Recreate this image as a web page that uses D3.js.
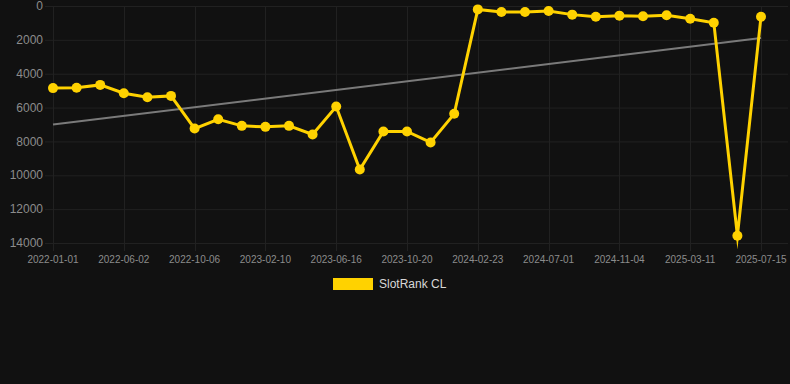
<!DOCTYPE html>
<html>
<head>
<meta charset="utf-8">
<script src="https://cdn.jsdelivr.net/npm/d3@7"></script>
<style>
  html, body { margin: 0; padding: 0; background: #111111; }
  svg { display: block; font-family: "Liberation Sans", Arial, Helvetica, sans-serif; }
</style>
</head>
<body>
<svg id="chart" width="790" height="384"></svg>
<script>
// categories (only every third one is labelled on the axis)
const dates = [
  '2022-01-01', '2022-02-21', '2022-04-12', '2022-06-02', '2022-07-14', '2022-08-25',
  '2022-10-06', '2022-11-17', '2022-12-29', '2023-02-10', '2023-03-24', '2023-05-05',
  '2023-06-16', '2023-07-28', '2023-09-08', '2023-10-20', '2023-12-01', '2024-01-12',
  '2024-02-23', '2024-04-06', '2024-05-19', '2024-07-01', '2024-08-12', '2024-09-23',
  '2024-11-04', '2024-12-16', '2025-01-27', '2025-03-11', '2025-04-22', '2025-06-03',
  '2025-07-15'
];

// rank values (lower is better, axis is reversed)
const rank = [
  4850, 4830, 4660, 5150, 5390, 5310,
  7240, 6690, 7080, 7140, 7080, 7590,
  5940, 9660, 7410, 7410, 8060, 6370,
  200, 355, 355, 295, 510, 630,
  570, 610, 550, 750, 985, 13570,
  630
];

const yTicks = [0, 2000, 4000, 6000, 8000, 10000, 12000, 14000];
const seriesName = 'SlotRank CL';

const W = 790, H = 384;
const margin = {top: 6, right: 2, bottom: 141, left: 53};
const plotRight = 761;  // last category position, grid keeps going to the edge

const svg = d3.select('#chart');
svg.append('rect').attr('width', W).attr('height', H).attr('fill', '#111111');

const x = d3.scalePoint().domain(dates).range([margin.left, plotRight]);
const y = d3.scaleLinear().domain([0, 14000]).range([margin.top, H - margin.bottom]);

// horizontal grid
svg.append('g')
    .selectAll('line')
    .data(yTicks)
    .enter()
    .append('line')
    .attr('x1', margin.left - 8)
    .attr('x2', W - margin.right)
    .attr('y1', d => y(d) + 0.5)
    .attr('y2', d => y(d) + 0.5)
    .attr('stroke', '#212121')
    .attr('stroke-width', 1);

// vertical grid, every third category
const shown = dates.filter((d, i) => i % 3 === 0);
svg.append('g')
    .selectAll('line')
    .data(shown)
    .enter()
    .append('line')
    .attr('x1', d => Math.round(x(d)) + 0.5)
    .attr('x2', d => Math.round(x(d)) + 0.5)
    .attr('y1', margin.top)
    .attr('y2', y(14000) + 8)
    .attr('stroke', '#212121')
    .attr('stroke-width', 1);

// y axis labels
svg.append('g')
    .selectAll('text')
    .data(yTicks)
    .enter()
    .append('text')
    .attr('x', 43)
    .attr('y', d => y(d))
    .attr('dy', '0.35em')
    .attr('text-anchor', 'end')
    .attr('font-size', 12)
    .attr('fill', '#8c8c8c')
    .text(d => d);

// x axis labels
svg.append('g')
    .selectAll('text')
    .data(shown)
    .enter()
    .append('text')
    .attr('x', d => x(d))
    .attr('y', 259)
    .attr('dy', '0.35em')
    .attr('text-anchor', 'middle')
    .attr('font-size', 10)
    .attr('fill', '#8c8c8c')
    .text(d => d);

// linear trend (least squares over the series)
const n = rank.length;
const mx = d3.mean(rank, (d, i) => i);
const my = d3.mean(rank);
const slope = d3.sum(rank, (d, i) => (i - mx) * (d - my)) / d3.sum(rank, (d, i) => (i - mx) * (i - mx));
const icpt = my - slope * mx;
svg.append('line')
    .attr('x1', x(dates[0]))
    .attr('y1', y(icpt))
    .attr('x2', x(dates[n - 1]))
    .attr('y2', y(icpt + slope * (n - 1)))
    .attr('stroke', '#7a7a7a')
    .attr('stroke-width', 2);

// series line
const yellow = '#ffd200';
svg.append('path')
    .datum(rank)
    .attr('fill', 'none')
    .attr('stroke', yellow)
    .attr('stroke-width', 3)
    .attr('stroke-linejoin', 'miter')
    .attr('stroke-miterlimit', 10)
    .attr('d', d3.line().x((d, i) => x(dates[i])).y(d => y(d)));

svg.append('g')
    .selectAll('circle')
    .data(rank)
    .enter()
    .append('circle')
    .attr('cx', (d, i) => x(dates[i]))
    .attr('cy', d => y(d))
    .attr('r', 5)
    .attr('fill', yellow);

// legend
const lg = svg.append('g');
lg.append('rect')
    .attr('x', 333).attr('y', 278)
    .attr('width', 40).attr('height', 12)
    .attr('fill', yellow);
lg.append('text')
    .attr('x', 379).attr('y', 284)
    .attr('dy', '0.35em')
    .attr('font-size', 12)
    .attr('fill', '#d8d8d8')
    .text(seriesName);
</script>
</body>
</html>
